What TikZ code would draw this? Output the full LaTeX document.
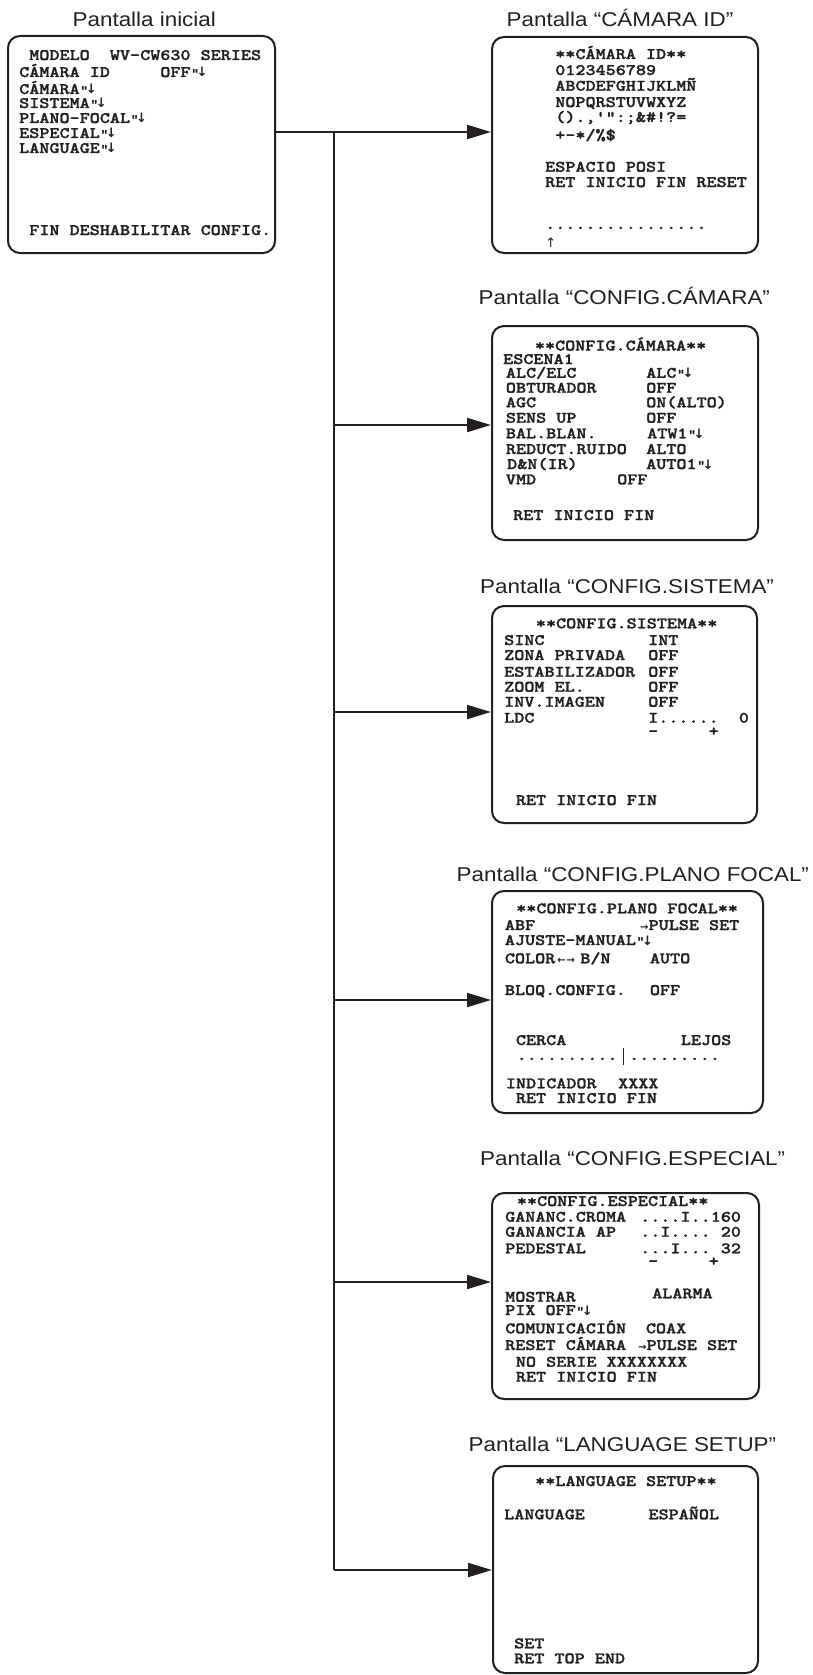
\documentclass[tikz,border=0pt]{standalone}
\usepackage{fontspec}
\setmainfont{Liberation Sans}
\newfontfamily\ttlfont{Liberation Sans}[FakeStretch=1.12]
\newfontfamily\scrfont{lmmonolt10-bold.otf}[FakeStretch=1.2,FakeBold=1.6,Ligatures=TeXOff]
\newfontfamily\symfont{DejaVu Sans Bold}
\newfontfamily\thinsym{DejaVu Sans}
\usetikzlibrary{arrows.meta}
\definecolor{ink}{HTML}{231F20}
\newcommand\ent{\hspace{0.5pt}{\scrfont\fontsize{13}{13}\selectfont"}\hspace{-2.6pt}{\symfont\fontsize{13}{13}\selectfont ↓}}
\newcommand\arw[1]{{\symfont\fontsize{10}{10}\selectfont #1}}
\newcounter{tn}
\newcommand\tl[3]{\stepcounter{tn}\node[txt] (t\arabic{tn}) at (#1,#2) {#3};}
\newcommand\ttl[4]{\node[ttlnode] (#1) at (#2,#3) {#4};}
\tikzset{
  scrbox/.style={draw=ink, line width=2pt, rounded corners=12pt, inner sep=0pt, anchor=north west},
  ttlnode/.style={anchor=base west, inner sep=0pt, text=ink, font=\ttlfont\fontsize{20}{20}\selectfont},
  txt/.style={anchor=base west, inner sep=0pt, text=ink, font=\scrfont\fontsize{16}{16}\selectfont},
  pm/.style={text height=4pt, text depth=0pt},
  conn/.style={draw=ink, line width=2pt},
  arr/.style={draw=ink, line width=2pt, -{Triangle[length=24pt,width=14pt]}},
}
\begin{document}
\begin{tikzpicture}[x=1pt,y=-1pt]
\useasboundingbox (0,0) rectangle (812,1675);
% titles
\ttl{h0}{72.5}{26.7}{Pantalla inicial}
\ttl{h1}{506.5}{26.7}{Pantalla “CÁMARA ID”}
\ttl{h2}{478.5}{304}{Pantalla “CONFIG.CÁMARA”}
\ttl{h3}{480}{593}{Pantalla “CONFIG.SISTEMA”}
\ttl{h4}{456.5}{881.7}{Pantalla “CONFIG.PLANO FOCAL”}
\ttl{h5}{480}{1165}{Pantalla “CONFIG.ESPECIAL”}
\ttl{h6}{468.5}{1451.7}{Pantalla “LANGUAGE SETUP”}
% boxes
\node[scrbox, minimum width=267pt, minimum height=217pt] (b0) at (7,35) {};
\node[scrbox, minimum width=266pt, minimum height=216pt] (b1) at (491,36) {};
\node[scrbox, minimum width=266pt, minimum height=214pt] (b2) at (491,325) {};
\node[scrbox, minimum width=265pt, minimum height=217pt] (b3) at (491,605) {};
\node[scrbox, minimum width=271pt, minimum height=222pt] (b4) at (491,890) {};
\node[scrbox, minimum width=267pt, minimum height=206pt] (b5) at (491,1192) {};
\node[scrbox, minimum width=265pt, minimum height=207pt] (b6) at (492,1465) {};
% connectors
\coordinate (j0) at (334,132);
\coordinate (j1) at (334,425);
\coordinate (j2) at (334,712);
\coordinate (j3) at (334,1000);
\coordinate (j4) at (334,1282);
\coordinate (j5) at (334,1570);
\draw[conn] (j0) -- (j5);
\draw[arr] (b0.east |- j0) -- (b1.west |- j0);
\draw[arr] (j1) -- (b2.west |- j1);
\draw[arr] (j2) -- (b3.west |- j2);
\draw[arr] (j3) -- (b4.west |- j3);
\draw[arr] (j4) -- (b5.west |- j4);
\draw[arr] (j5) -- (b6.west |- j5);
% initial screen
\tl{19}{60}{~MODELO~~WV-CW630~SERIES}
\tl{19}{77}{CÁMARA~ID~~~~~OFF\ent}
\tl{19}{94}{CÁMARA\ent}
\tl{19}{108}{SISTEMA\ent}
\tl{19}{123}{PLANO-FOCAL\ent}
\tl{19}{138}{ESPECIAL\ent}
\tl{19}{153}{LANGUAGE\ent}
\tl{19}{235}{~FIN~DESHABILITAR~CONFIG.}
% camara id
\tl{545}{59}{~**CÁMARA~ID**}
\tl{545}{75}{~0123456789}
\tl{545}{90.7}{~ABCDEFGHIJKLMÑ}
\tl{545}{107}{~NOPQRSTUVWXYZ}
\tl{545}{122}{~().,'":;\&\#!?=}
\tl{545}{140}{~+-*/\%\$}
\tl{545}{171.7}{ESPACIO~POSI}
\tl{545}{187}{RET~INICIO~FIN~RESET}
\tl{545}{229}{................}
\node[anchor=base, inner sep=0pt, text=ink, font=\thinsym\fontsize{13}{13}\selectfont] (cur) at (550.7,247) {↑};
% config camara
\tl{534.7}{350.5}{**CONFIG.CÁMARA**}
\tl{503}{364}{ESCENA1}
\tl{505.7}{377.8}{ALC/ELC}   \tl{646}{377.8}{ALC\ent}
\tl{505.7}{392.7}{OBTURADOR} \tl{646}{392.7}{OFF}
\tl{505.7}{407.3}{AGC}       \tl{646}{407.3}{ON(ALTO)}
\tl{505.7}{422.7}{SENS~UP}   \tl{646}{422.7}{OFF}
\tl{505.7}{438.3}{BAL.BLAN.} \tl{647}{438.3}{ATW1\ent}
\tl{505.7}{454}{REDUCT.RUIDO} \tl{646}{454}{ALTO}
\tl{507}{469}{D\&N(IR)}      \tl{646}{469}{AUTO1\ent}
\tl{505.7}{484.3}{VMD}       \tl{617}{484.3}{OFF}
\tl{513}{520}{RET~INICIO~FIN}
% config sistema
\tl{535.7}{628.3}{**CONFIG.SISTEMA**}
\tl{504}{645}{SINC}          \tl{648}{645}{INT}
\tl{504}{660}{ZONA~PRIVADA}  \tl{648}{660}{OFF}
\tl{504}{676.7}{ESTABILIZADOR} \tl{648}{676.7}{OFF}
\tl{504}{691.7}{ZOOM~EL.}    \tl{648}{691.7}{OFF}
\tl{504}{706.7}{INV.IMAGEN}  \tl{648}{706.7}{OFF}
\tl{504}{722.7}{LDC}         \tl{648}{722.7}{I......~~0}
\node[txt, pm] (pm1) at (648,736) {-~~~~~+};
\tl{515.7}{805}{RET~INICIO~FIN}
% config plano focal
\tl{516}{913.3}{**CONFIG.PLANO~FOCAL**}
\tl{504.7}{930}{ABF}         \tl{640}{930}{\arw{→}PULSE~SET}
\tl{504.7}{945}{AJUSTE-MANUAL\ent}
\tl{504.7}{963.3}{COLOR\makebox[25pt][l]{\hspace{2pt}\arw{←}\hspace{1pt}\arw{→}}B/N} \tl{649.7}{963.3}{AUTO}
\tl{504.7}{995}{BLOQ.CONFIG.} \tl{649.7}{995}{OFF}
\tl{515.7}{1045}{CERCA}      \tl{680.7}{1045}{LEJOS}
\tl{516.5}{1060}{..........} \tl{629}{1060}{.........}
\coordinate (barT) at (623.3,1048);
\coordinate (barB) at (623.3,1065);
\draw[ink, line width=0.8pt] (barT) -- (barB);
\tl{505.7}{1088.3}{INDICADOR} \tl{618}{1088.3}{XXXX}
\tl{515.7}{1103}{RET~INICIO~FIN}
% config especial
\tl{516.7}{1206}{**CONFIG.ESPECIAL**}
\tl{505}{1221.7}{GANANC.CROMA} \tl{640}{1221.7}{....I..160}
\tl{505}{1236.7}{GANANCIA~AP}  \tl{640}{1236.7}{..I....~20}
\tl{505}{1253.3}{PEDESTAL}     \tl{640}{1253.3}{...I...~32}
\node[txt, pm] (pm2) at (648,1266) {-~~~~~+};
\tl{505}{1301.7}{MOSTRAR}      \tl{652}{1298.3}{ALARMA}
\tl{505}{1315}{PIX~OFF\ent}
\tl{505}{1333.3}{COMUNICACIÓN} \tl{645.7}{1333.3}{COAX}
\tl{505}{1350}{RESET~CÁMARA}   \tl{638}{1350}{\arw{→}PULSE~SET}
\tl{515.7}{1366.7}{NO~SERIE~XXXXXXXX}
\tl{515.7}{1381.7}{RET~INICIO~FIN}
% language
\tl{535}{1486}{**LANGUAGE~SETUP**}
\tl{504}{1519.3}{LANGUAGE}     \tl{648.3}{1519.3}{ESPAÑOL}
\tl{514}{1648.3}{SET}
\tl{514}{1663.3}{RET~TOP~END}
\end{tikzpicture}
\end{document}
